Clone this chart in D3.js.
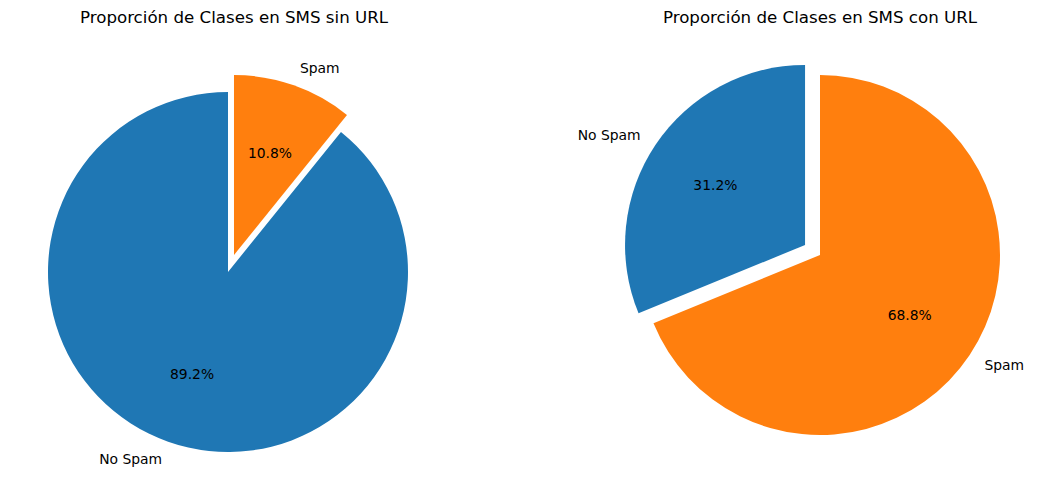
<!DOCTYPE html>
<html>
<head>
<meta charset="utf-8">
<script src="https://cdn.jsdelivr.net/npm/d3@7"></script>
<style>
body { margin: 0; background: #fff; }
svg { font-family: "DejaVu Sans", sans-serif; }
</style>
</head>
<body>
<svg id="chart" width="1054" height="490"></svg>
<script>
const categories = ["No Spam", "Spam"];
const titles = ["Proporción de Clases en SMS sin URL", "Proporción de Clases en SMS con URL"];
const valuesSinURL = [89.2, 10.8];
const valuesConURL = [31.2, 68.8];
const explodeSinURL = [0, 0.1];
const explodeConURL = [0.1, 0];
const colors = ["#1f77b4", "#ff7f0e"];

const svg = d3.select("#chart");
const R = 180;

const panels = [
  { title: titles[0], values: valuesSinURL, explode: explodeSinURL, cx: 228, cy: 272, tx: 234 },
  { title: titles[1], values: valuesConURL, explode: explodeConURL, cx: 820, cy: 255, tx: 820 }
];

const pie = d3.pie().sort(null).startAngle(0).endAngle(-2 * Math.PI);
const arc = d3.arc().innerRadius(0).outerRadius(R);
const color = d3.scaleOrdinal().domain(categories).range(colors);

panels.forEach(p => {
  svg.append("text")
    .attr("x", p.tx).attr("y", 23)
    .attr("text-anchor", "middle")
    .style("font-size", "16.67px")
    .text(p.title);

  const total = d3.sum(p.values);
  const arcs = pie(p.values);
  const g = svg.append("g").attr("transform", `translate(${p.cx},${p.cy})`);
  arcs.forEach((a, i) => {
    const mid = (a.startAngle + a.endAngle) / 2;
    const off = p.explode[i] * R;
    const ox = off * Math.sin(mid), oy = -off * Math.cos(mid);
    const sg = g.append("g").attr("transform", `translate(${ox},${oy})`);
    sg.append("path").attr("d", arc(a)).attr("fill", color(categories[i]));
    const lx = 1.1 * R * Math.sin(mid), ly = -1.1 * R * Math.cos(mid);
    sg.append("text")
      .attr("x", lx).attr("y", ly).attr("dy", "0.35em")
      .attr("text-anchor", lx > 0 ? "start" : "end")
      .style("font-size", "13.89px")
      .text(categories[i]);
    const px = 0.6 * R * Math.sin(mid), py = -0.6 * R * Math.cos(mid);
    sg.append("text")
      .attr("x", px).attr("y", py).attr("dy", "0.35em")
      .attr("text-anchor", "middle")
      .style("font-size", "13.89px")
      .text((100 * p.values[i] / total).toFixed(1) + "%");
  });
});
</script>
</body>
</html>
